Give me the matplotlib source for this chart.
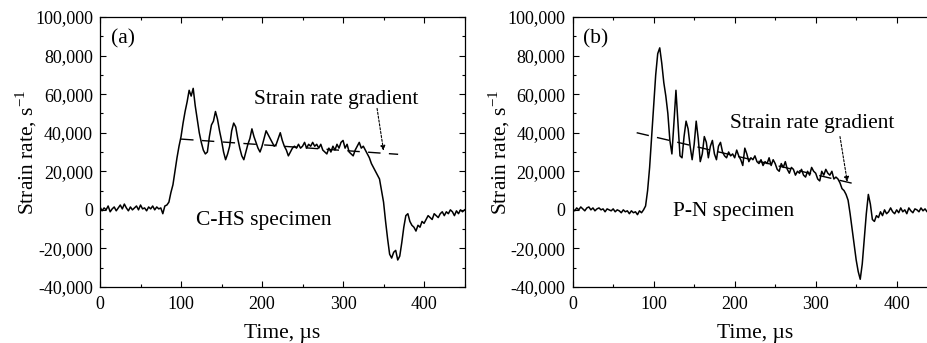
import numpy as np
import matplotlib
matplotlib.use("Agg")
import matplotlib.pyplot as plt
from matplotlib.ticker import MultipleLocator, FuncFormatter

plt.rcParams['font.family'] = ['Liberation Serif', 'DejaVu Serif']
plt.rcParams['mathtext.fontset'] = 'custom'
plt.rcParams['mathtext.rm'] = 'Liberation Serif'

rate_a = [
    1500, -500, 1000, 0, 2000, -1000, 500, 1500, -500, 1000,
    2500, 500, 3000, 1000, -500, 1500, 0, 1000, 2000, 0,
    2500, 500, 1000, -500, 1500, 500, 2000, 0, 1500, 500,
    1000, -2000,
    2000, 2500, 4000, 9000, 13000, 20000, 27000, 33000, 38000, 45000,
    51000, 56000, 62000, 59000, 63000, 54000, 47000, 40000, 35000, 31000,
    29000, 30000, 38000, 44000, 46000, 51000, 47000, 41000, 36000, 30000,
    26000, 29000, 33000, 41000, 45000, 43000, 37000, 32000, 28000, 26000,
    30000, 34000, 37000, 42000, 38000, 35000, 32000, 30000, 33000, 37000,
    41000, 39000, 37000, 35000, 33000, 34000, 37000, 40000, 36000, 33000,
    31000, 28000, 30000, 32000, 33000, 32000, 34000, 32000, 33000, 35000,
    32000, 34000, 33000, 35000, 33000, 34000, 32000, 34000, 31000, 30000,
    29000, 32000, 30000, 33000, 31000, 34000, 32000, 35000, 36000, 32000,
    34000, 30000, 29000, 28000, 31000, 33000, 35000, 32000, 33000, 31000,
    29000, 27000, 24000, 22000, 20000, 18000, 16000, 10000, 4000, -6000,
    -15000, -23000, -25000, -22000, -21000, -26000, -24000, -17000, -9000, -3000,
    -2000, -6000, -8000, -9000, -11000, -8000, -9000, -6000, -7000, -5000,
    -3000, -4000, -5000, -2000, -3000, -4000, -2000, -1000, -3000, -1000,
    -2000, 0, -1000, -3000, -500, -2000, 0, -1000, 0,
]

rate_b = [
    500, -500, 1000, 0, 1500, 500, -500, 1000, 1500, 0,
    1000, -500, 500, 1000, 0, 500, -1000, 500, 0, -500,
    500, -1000, 0, -500, -1500, 0, -1000, -500, -2000, -500,
    -1500, -1000, -2500, -500, -1500, 0, 2000, 10000, 22000, 38000,
    54000, 70000, 81000, 84000, 76000, 66000, 59000, 50000, 36000, 29000,
    45000, 62000, 45000, 28000, 27000, 38000, 46000, 42000, 33000, 26000,
    34000, 46000, 37000, 25000, 29000, 38000, 35000, 27000, 33000, 36000,
    29000, 26000, 33000, 35000, 30000, 28000, 27000, 30000, 28000, 29000,
    27000, 31000, 28000, 26000, 23000, 32000, 29000, 25000, 27000, 26000,
    28000, 25000, 24000, 26000, 23000, 25000, 24000, 27000, 23000, 26000,
    24000, 21000, 20000, 24000, 22000, 25000, 21000, 19000, 22000, 21000,
    18000, 20000, 19000, 21000, 18000, 17000, 20000, 18000, 22000, 20000,
    19000, 16000, 15000, 20000, 18000, 21000, 19000, 18000, 20000, 16000,
    17000, 16000, 14000, 11000, 10000, 8000, 5000, -2000, -10000, -18000,
    -26000, -32000, -36000, -28000, -15000, -2000, 8000, 3000, -5000, -6000,
    -3000, -4000, -1000, -3000, 0, -2000, -1000, 1000, -1000, -2000,
    0, -1500, 1000, -1000, 0, -2000, 1000, -500, -1500, 500,
    0, -1000, 1000, -500, 500, -1000, 500, 0, 1000,
]

time_a = 2.5 * np.arange(len(rate_a))
time_b = 2.5 * np.arange(len(rate_b))

# dashed strain rate gradient lines
grad_a_t = [100, 368]
grad_a_v = [36700, 28800]
grad_b_t = [79, 346]
grad_b_v = [40000, 13700]

fig = plt.figure(figsize=(9.28, 3.43), dpi=100)
ax_a = fig.add_axes([0.1078, 0.1633, 0.3928, 0.7871])
ax_b = fig.add_axes([0.6171, 0.1633, 0.3928, 0.7871])


def style_axis(ax):
    ax.set_xlim(0, 450)
    ax.set_ylim(-40000, 100000)
    ax.xaxis.set_major_locator(MultipleLocator(100))
    ax.xaxis.set_minor_locator(MultipleLocator(50))
    ax.yaxis.set_major_locator(MultipleLocator(20000))
    ax.yaxis.set_minor_locator(MultipleLocator(10000))
    ax.yaxis.set_major_formatter(FuncFormatter(lambda v, p: f"{v:,.0f}"))
    ax.tick_params(which='both', direction='in', top=True, right=True,
                   width=0.8, labelsize=13, pad=5)
    ax.tick_params(axis='x', which='major', pad=6.5)
    ax.tick_params(which='major', length=4.5)
    ax.tick_params(which='minor', length=2.5)
    for s in ax.spines.values():
        s.set_linewidth(0.9)
    ax.set_xlabel("Time, µs", fontsize=15.5, labelpad=8)
    ax.set_ylabel(r"Strain rate, s$^{\mathregular{-1}}$", fontsize=15.5, labelpad=-3)


arrow_style = dict(arrowstyle='-|>', color='black', lw=0.8,
                   linestyle=(0, (2, 1.5)), mutation_scale=7,
                   shrinkA=0, shrinkB=0)

# (a) C-HS specimen
style_axis(ax_a)
ax_a.plot(time_a, rate_a, color='black', lw=1.1)
ax_a.plot(grad_a_t, grad_a_v, color='black', lw=1.0, dashes=(9, 6))
ax_a.text(13.5, 86500, "(a)", fontsize=15.5)
ax_a.text(118, -7800, "C-HS specimen", fontsize=15.5)
ax_a.text(190, 54900, "Strain rate gradient", fontsize=15.5)
ax_a.annotate("", xy=(350, 30700), xytext=(342, 52600), arrowprops=arrow_style)

# (b) P-N specimen
style_axis(ax_b)
ax_b.plot(time_b, rate_b, color='black', lw=1.1)
ax_b.plot(grad_b_t, grad_b_v, color='black', lw=1.0, dashes=(9, 6))
ax_b.text(13, 86400, "(b)", fontsize=15.5)
ax_b.text(124, -3200, "P-N specimen", fontsize=15.5)
ax_b.text(194, 42300, "Strain rate gradient", fontsize=15.5)
ax_b.annotate("", xy=(339, 14600), xytext=(330, 38000), arrowprops=arrow_style)

fig.savefig("out.png", dpi=100)
